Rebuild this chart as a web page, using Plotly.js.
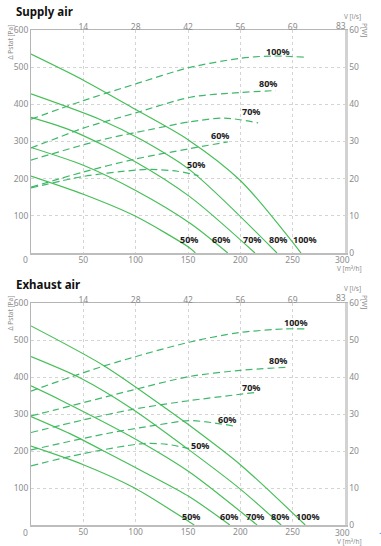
<!DOCTYPE html>
<html><head><meta charset="utf-8">
<script src="https://cdn.plot.ly/plotly-3.0.1.min.js"></script>
<style>html,body{margin:0;padding:0;background:#fff;}#chart{width:381px;height:546px;}</style>
</head><body><div id="chart"></div>
<script>
// ---------- DATA ----------
const levels = ['50%', '60%', '70%', '80%', '100%'];
const flowTicks = [50, 100, 150, 200, 250, 300];
const litreTicks = ['14', '28', '42', '56', '69', '83'];
const paTicks = [100, 200, 300, 400, 500, 600];
const wTicks = [0, 10, 20, 30, 40, 50, 60];

// Supply air: static pressure [Pa] vs flow [m3/h]
const supPaQ50 = [0, 50, 99, 152, 157];          const supPa50 = [207, 158, 100, 13, 0];
const supPaQ60 = [0, 50, 100, 152, 188];         const supPa60 = [284, 236, 168, 80, 0];
const supPaQ70 = [0, 40, 100, 152, 214];         const supPa70 = [365, 328, 245, 151, 0];
const supPaQ80 = [0, 67, 106, 152, 235];         const supPa80 = [428, 358, 304, 223, 0];
const supPaQ100 = [0, 50, 100, 150, 200, 258];   const supPa100 = [535, 465, 386, 305, 195, 0];
// Supply air: power [W] vs flow [m3/h]
const supWQ50 = [0, 50, 100, 115, 140, 160];     const supW50 = [17.5, 20.6, 22.3, 22.5, 22.0, 20.8];
const supWQ60 = [0, 50, 100, 150, 188];          const supW60 = [17.7, 21.8, 25.3, 28.0, 29.9];
const supWQ70 = [0, 67, 112, 152, 185, 217];     const supW70 = [25.0, 30.4, 33.1, 35.3, 36.3, 35.0];
const supWQ80 = [0, 20, 50, 100, 152, 200, 234]; const supW80 = [28.3, 30.4, 33.6, 37.7, 41.9, 43.2, 43.7];
const supWQ100 = [0, 50, 100, 150, 200, 230, 261]; const supW100 = [36.0, 41.0, 45.5, 49.8, 52.4, 53.0, 52.7];

// Exhaust air: static pressure [Pa] vs flow [m3/h]
const exhPaQ50 = [0, 50, 99, 151, 156];          const exhPa50 = [213, 163, 100, 9, 0];
const exhPaQ60 = [0, 40, 75, 110, 151, 190];     const exhPa60 = [293, 243, 192, 140, 77, 0];
const exhPaQ70 = [0, 28, 100, 151, 216];         const exhPa70 = [376, 338, 232, 144, 0];
const exhPaQ80 = [0, 48, 96, 151, 200, 239];     const exhPa80 = [455, 396, 315, 203, 97, 0];
const exhPaQ100 = [0, 70, 131, 151, 200, 262];   const exhPa100 = [538, 430, 311, 270, 163, 0];
// Exhaust air: power [W] vs flow [m3/h]
const exhWQ50 = [0, 50, 107, 130, 153];          const exhW50 = [16.0, 19.3, 22.0, 21.8, 20.5];
const exhWQ60 = [0, 74, 120, 151, 172, 193];     const exhW60 = [20.3, 24.8, 27.0, 28.2, 27.7, 26.8];
const exhWQ70 = [0, 50, 96, 151, 217];           const exhW70 = [25.0, 28.4, 31.2, 33.6, 35.9];
const exhWQ80 = [0, 23, 96, 151, 200, 243];      const exhW80 = [29.5, 31.1, 36.4, 40.1, 41.8, 42.6];
const exhWQ100 = [0, 70, 151, 199, 243, 262];    const exhW100 = [36.2, 43.0, 49.4, 52.0, 53.0, 53.0];

// ---------- STYLE ----------
const SOLID = '#47be58', DASHED = '#3fb86a';
const GRID = '#d4d4d4', TICKC = '#8c8c8c';
const FONT = 'Noto Sans, Open Sans, sans-serif';
const L = 31, R = 36, T = 30, B = 21, PW = 381 - L - R, PH = 546 - T - B;
const px = v => (v - L) / PW;
const py = v => (546 - B - v) / PH;

const supPa = [[supPaQ50, supPa50], [supPaQ60, supPa60], [supPaQ70, supPa70], [supPaQ80, supPa80], [supPaQ100, supPa100]];
const supW = [[supWQ50, supW50], [supWQ60, supW60], [supWQ70, supW70], [supWQ80, supW80], [supWQ100, supW100]];
const exhPa = [[exhPaQ50, exhPa50], [exhPaQ60, exhPa60], [exhPaQ70, exhPa70], [exhPaQ80, exhPa80], [exhPaQ100, exhPa100]];
const exhW = [[exhWQ50, exhW50], [exhWQ60, exhW60], [exhWQ70, exhW70], [exhWQ80, exhW80], [exhWQ100, exhW100]];

const traces = [];
function addSet(set, xa, ya, color, dash) {
  set.forEach((s, i) => traces.push({
    type: 'scatter', mode: 'lines', x: s[0], y: s[1], xaxis: xa, yaxis: ya,
    name: levels[i], showlegend: false, hoverinfo: 'skip',
    line: {color: color, width: 1.2, dash: dash, shape: 'spline', smoothing: 0.8}
  }));
}
addSet(supPa, 'x', 'y', SOLID, 'solid');
addSet(supW, 'x', 'y3', DASHED, '7px,4px');
addSet(exhPa, 'x2', 'y2', SOLID, 'solid');
addSet(exhW, 'x2', 'y4', DASHED, '7px,4px');
// anchors for the top (l/s) axes
traces.push({type: 'scatter', mode: 'markers', x: [0], y: [0], xaxis: 'x3', yaxis: 'y', marker: {opacity: 0}, hoverinfo: 'skip', showlegend: false});
traces.push({type: 'scatter', mode: 'markers', x: [0], y: [0], xaxis: 'x4', yaxis: 'y2', marker: {opacity: 0}, hoverinfo: 'skip', showlegend: false});

// last tick of each x axis is drawn as an annotation, nudged left as in the reference
const inner = flowTicks.slice(0, -1);
const tf = {family: FONT, size: 8.5, color: TICKC};
function xBottom(anchor) {
  return {domain: [0, 1], anchor: anchor, range: [0, 300], tickvals: inner, ticktext: inner.map(String),
    showgrid: true, gridcolor: GRID, griddash: 'dot', gridwidth: 1, zeroline: false,
    showline: true, linecolor: '#bdbdbd', linewidth: 2, ticks: '', tickfont: tf, ticklabelstandoff: -2, fixedrange: true};
}
function xTop(over, anchor) {
  return {overlaying: over, side: 'top', anchor: anchor, range: [0, 300], tickvals: inner, ticktext: litreTicks.slice(0, -1),
    showgrid: false, zeroline: false, showline: true, linecolor: '#b5b5b5', linewidth: 1, ticks: '', tickfont: tf,
    ticklabelstandoff: -4, fixedrange: true};
}
function yLeft(dom, anchor) {
  return {domain: dom, anchor: anchor, range: [0, 600], tickvals: paTicks, ticktext: paTicks.map(String),
    showgrid: true, gridcolor: GRID, griddash: 'dot', gridwidth: 1, zeroline: false,
    showline: true, linecolor: '#b5b5b5', linewidth: 1, ticks: '', tickfont: tf, fixedrange: true};
}
function yRight(over, anchor) {
  return {overlaying: over, side: 'right', anchor: anchor, range: [0, 60], tickvals: wTicks, ticktext: wTicks.map(String),
    showgrid: false, zeroline: false, showline: true, linecolor: '#d2d2d2', linewidth: 2.5,
    ticks: '', tickfont: tf, fixedrange: true};
}

const topBottomPx = 253, botTopPx = 303;
const ann = [];
function txt(text, x, y, opt) {
  ann.push(Object.assign({text: text, x: x, y: y, xref: 'paper', yref: 'paper', showarrow: false,
    xanchor: 'center', yanchor: 'middle', font: {family: FONT, size: 6.5, color: TICKC}}, opt || {}));
}
// chart titles
txt('Supply air', px(14), py(12), {xanchor: 'left', font: {family: FONT, size: 11.5, color: '#111', weight: 'bold'}});
txt('Exhaust air', px(14), py(284), {xanchor: 'left', font: {family: FONT, size: 11.5, color: '#111', weight: 'bold'}});
// axis names, origin and end labels
[[0, 42, 16, 30, 268, 259.5, 26], [272, 313, 288.5, 302, 541, 532, 298]].forEach(o => {
  txt('Δ Pstat [Pa]', px(9.5), py(o[1]), {textangle: -90});
  txt('V [l/s]', px(352), py(o[2]));
  txt('P[W]', px(365), py(o[3]), {textangle: 90});
  txt('V [m³/h]', px(349), py(o[4]));
  txt('0', px(25), py(o[5]), {font: tf});
  txt(String(flowTicks[flowTicks.length - 1]), px(342.5), py(o[5]), {font: tf});
  txt(litreTicks[litreTicks.length - 1], px(341), py(o[6]), {font: tf});
});
// curve labels
const lab = {family: FONT, size: 9, color: '#1a1a1a', weight: 'bold'};
function cl(text, x, y, xr, yr) { ann.push({text: text, x: x, y: y, xref: xr, yref: yr, showarrow: false, font: lab}); }
// supply: pressure-curve labels, power-curve labels
cl('50%', 151, 37, 'x', 'y'); cl('60%', 182, 37, 'x', 'y'); cl('70%', 211, 37, 'x', 'y'); cl('80%', 236, 37, 'x', 'y'); cl('100%', 262, 37, 'x', 'y');
cl('100%', 236, 543, 'x', 'y'); cl('80%', 226, 457, 'x', 'y'); cl('70%', 210, 382, 'x', 'y'); cl('60%', 180.5, 315, 'x', 'y'); cl('50%', 157.6, 239, 'x', 'y');
// exhaust
cl('50%', 153, 24, 'x2', 'y2'); cl('60%', 189, 24, 'x2', 'y2'); cl('70%', 214, 24, 'x2', 'y2'); cl('80%', 238, 24, 'x2', 'y2'); cl('100%', 265, 24, 'x2', 'y2');
cl('100%', 253, 546, 'x2', 'y2'); cl('80%', 235.7, 445, 'x2', 'y2'); cl('70%', 210, 372, 'x2', 'y2'); cl('60%', 187, 284, 'x2', 'y2'); cl('50%', 161, 214, 'x2', 'y2');
// stray mark
txt('.', px(380), py(530), {font: {family: FONT, size: 9, color: '#3b5bb5'}});

const layout = {
  width: 381, height: 546, margin: {l: L, r: R, t: T, b: B, pad: 0},
  paper_bgcolor: '#fff', plot_bgcolor: '#fff', showlegend: false,
  font: {family: FONT},
  xaxis: xBottom('y'),
  yaxis: yLeft([py(topBottomPx), 1], 'x'),
  xaxis3: xTop('x', 'y'),
  yaxis3: yRight('y', 'x'),
  xaxis2: xBottom('y2'),
  yaxis2: yLeft([0, py(botTopPx)], 'x2'),
  xaxis4: xTop('x2', 'y2'),
  yaxis4: yRight('y2', 'x2'),
  annotations: ann
};
Plotly.newPlot('chart', traces, layout, {displayModeBar: false, staticPlot: true});
</script></body></html>
